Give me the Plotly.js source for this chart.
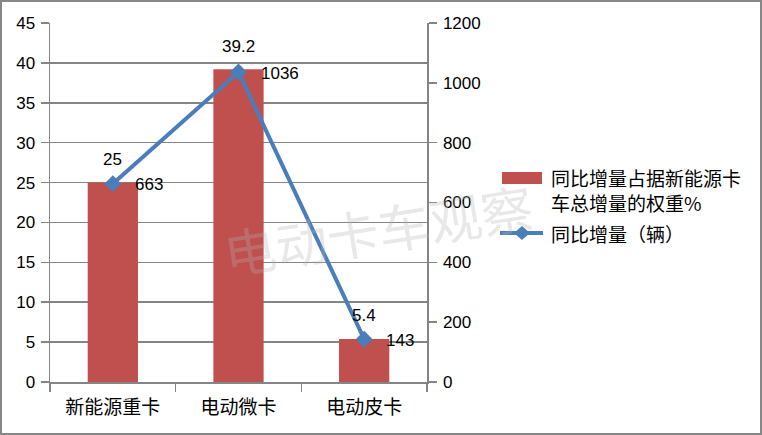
<!DOCTYPE html>
<html>
<head>
<meta charset="utf-8">
<script src="https://cdn.plot.ly/plotly-3.0.1.min.js"></script>
<style>
  html, body { margin: 0; padding: 0; background: #ffffff; }
  #chart { width: 758px; height: 431px; border: 2px solid #878787; }
</style>
</head>
<body>
<div id="chart"></div>
<script>
// ---- data ----
const categories = ['新能源重卡', '电动微卡', '电动皮卡'];
const shareValues = [25, 39.2, 5.4];          // 同比增量占据新能源卡车总增量的权重%
const increaseValues = [663, 1036, 143];       // 同比增量（辆）
const barSeriesName = '同比增量占据新能源卡车总增量的权重%';
const lineSeriesName = '同比增量（辆）';
const watermarkText = '电动卡车观察';

// ---- helpers for paper coords (plot area: x 50..427, y 23..382 in page px) ----
const PX0 = 50, PX1 = 427, PY0 = 23, PY1 = 382;
const px = x => (x - PX0) / (PX1 - PX0);
const py = y => (PY1 - y) / (PY1 - PY0);

const numFont = { family: 'Liberation Sans, Noto Sans CJK SC', size: 17, color: '#000000' };
const cjkFont = { family: 'Noto Sans CJK SC, Liberation Sans', size: 19, color: '#000000' };

const barTrace = {
  type: 'bar',
  name: barSeriesName,
  x: categories,
  y: shareValues,
  marker: { color: '#C0504D' },
  width: 0.4,
  yaxis: 'y',
  hoverinfo: 'skip'
};

const lineTrace = {
  type: 'scatter',
  mode: 'lines+markers',
  name: lineSeriesName,
  x: categories,
  y: increaseValues,
  yaxis: 'y2',
  line: { color: '#4A7EBB', width: 4 },
  marker: { symbol: 'diamond', size: 13, color: '#4A7EBB' },
  hoverinfo: 'skip'
};

const annotations = [];
categories.forEach((c, i) => {
  annotations.push({
    x: c, y: shareValues[i], xref: 'x', yref: 'y',
    text: String(shareValues[i]), showarrow: false,
    yanchor: 'middle', xanchor: 'center', yshift: 23,
    font: numFont
  });
  annotations.push({
    x: c, y: increaseValues[i], xref: 'x', yref: 'y2',
    text: String(increaseValues[i]), showarrow: false,
    yanchor: 'middle', xanchor: 'left', xshift: 20, yshift: -1,
    font: numFont
  });
});

// legend texts
annotations.push({
  xref: 'paper', yref: 'paper', x: px(549), y: py(190),
  xanchor: 'left', yanchor: 'middle', align: 'left', showarrow: false,
  text: barSeriesName.slice(0, 10) + '<br>' + barSeriesName.slice(10),
  font: cjkFont
});
annotations.push({
  xref: 'paper', yref: 'paper', x: px(549), y: py(233),
  xanchor: 'left', yanchor: 'middle', align: 'left', showarrow: false,
  text: lineSeriesName,
  font: cjkFont
});

// watermark
annotations.push({
  xref: 'paper', yref: 'paper', x: px(378), y: py(228),
  xanchor: 'center', yanchor: 'middle', showarrow: false,
  text: watermarkText, textangle: -9,
  font: { family: 'Noto Sans CJK SC', size: 52, color: 'rgba(180,180,180,0.3)' }
});

const shapes = [
  { type: 'rect', xref: 'paper', yref: 'paper',
    x0: px(502), x1: px(542), y0: py(184), y1: py(172),
    fillcolor: '#C0504D', line: { width: 0 } },
  { type: 'line', xref: 'paper', yref: 'paper',
    x0: px(500), x1: px(543), y0: py(233), y1: py(233),
    line: { color: '#4A7EBB', width: 4 } },
  { type: 'path', xref: 'paper', yref: 'paper',
    xsizemode: 'pixel', ysizemode: 'pixel',
    xanchor: px(522), yanchor: py(233),
    path: 'M0,7L8,0L0,-7L-8,0Z',
    fillcolor: '#4A7EBB', line: { width: 0 } }
];

const gridCol = '#858585';

const layout = {
  width: 758,
  height: 431,
  margin: { l: 48, r: 333, t: 21, b: 51, pad: 0 },
  paper_bgcolor: '#ffffff',
  plot_bgcolor: '#ffffff',
  font: numFont,
  showlegend: false,
  bargap: 0.6,
  xaxis: {
    type: 'category',
    tickson: 'boundaries',
    ticks: 'outside', ticklen: 8, tickcolor: gridCol, tickwidth: 1.5,
    showline: true, linecolor: gridCol, linewidth: 1.5,
    showgrid: false,
    tickfont: cjkFont,
    ticklabelstandoff: 8,
    fixedrange: true
  },
  yaxis: {
    range: [0, 45], dtick: 5, tick0: 0,
    ticks: 'outside', ticklen: 8, tickcolor: gridCol, tickwidth: 1.5,
    showline: true, linecolor: gridCol, linewidth: 1.5,
    showgrid: true, gridcolor: gridCol, gridwidth: 1.5,
    zeroline: false,
    tickfont: numFont,
    ticklabelstandoff: 2,
    fixedrange: true
  },
  yaxis2: {
    range: [0, 1200], dtick: 200, tick0: 0,
    overlaying: 'y', side: 'right',
    ticks: 'outside', ticklen: 8, tickcolor: gridCol, tickwidth: 1.5,
    showline: true, linecolor: gridCol, linewidth: 1.5,
    showgrid: false, zeroline: false,
    tickfont: numFont,
    ticklabelstandoff: 3,
    fixedrange: true
  },
  annotations: annotations,
  shapes: shapes
};

Plotly.newPlot('chart', [barTrace, lineTrace], layout, { staticPlot: true, displayModeBar: false });
</script>
</body>
</html>
